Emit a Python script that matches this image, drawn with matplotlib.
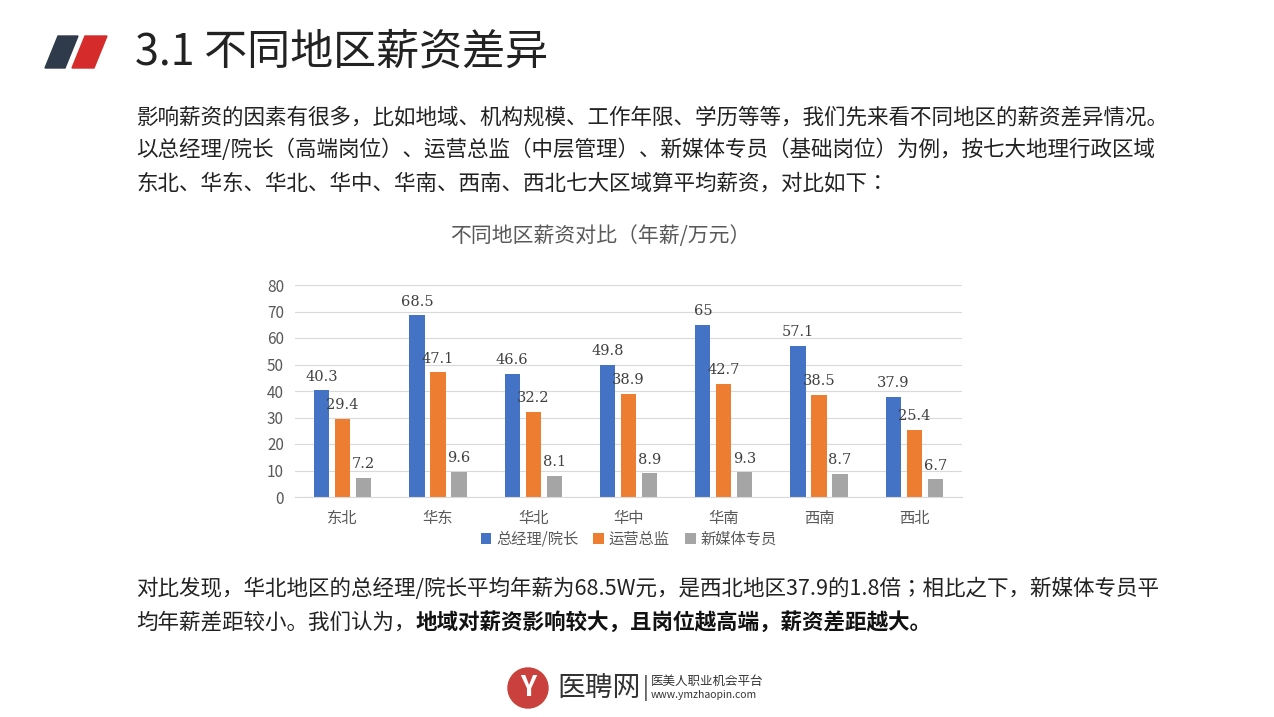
import matplotlib
matplotlib.use('Agg')
import matplotlib.pyplot as plt
from matplotlib.patches import Polygon, Ellipse
import numpy as np

plt.rcParams['font.family'] = ['Noto Sans CJK SC', 'Noto Sans CJK JP', 'DejaVu Sans']

regions = ['东北', '华东', '华北', '华中', '华南', '西南', '西北']
series_names = ['总经理/院长', '运营总监', '新媒体专员']
gm = [40.3, 68.5, 46.6, 49.8, 65, 57.1, 37.9]
ops = [29.4, 47.1, 32.2, 38.9, 42.7, 38.5, 25.4]
media = [7.2, 9.6, 8.1, 8.9, 9.3, 8.7, 6.7]
colors = ['#4472C4', '#ED7D31', '#A5A5A5']
yticks = [0, 10, 20, 30, 40, 50, 60, 70, 80]

W, H = 1274, 717
fig = plt.figure(figsize=(W / 100, H / 100), dpi=100)
fig.patch.set_facecolor('white')

def fx(x): return x / W
def fy(y): return 1 - y / H

# header mark
fig.patches.append(Polygon([(fx(58), fy(36)), (fx(78), fy(36)), (fx(65), fy(68)), (fx(45), fy(68))],
                           closed=True, color='#2F3A4A', transform=fig.transFigure))
fig.patches.append(Polygon([(fx(85), fy(36)), (fx(107), fy(36)), (fx(94), fy(68)), (fx(72), fy(68))],
                           closed=True, color='#D52B2B', transform=fig.transFigure))
fig.text(fx(135), fy(52), '3.1 不同地区薪资差异', fontsize=31, color='#222222', va='center')

para = ['影响薪资的因素有很多，比如地域、机构规模、工作年限、学历等等，我们先来看不同地区的薪资差异情况。',
        '以总经理/院长（高端岗位）、运营总监（中层管理）、新媒体专员（基础岗位）为例，按七大地理行政区域',
        '东北、华东、华北、华中、华南、西南、西北七大区域算平均薪资，对比如下：']
for i, line in enumerate(para):
    fig.text(fx(136), fy(117 + i * 33), line, fontsize=15.5, color='#222222', va='center')

fig.text(fx(600), fy(236), '不同地区薪资对比（年薪/万元）', fontsize=15, color='#595959', ha='center', va='center')

ax = fig.add_axes([fx(295), fy(497), fx(962) - fx(295), (497 - 285) / H])
x = np.arange(len(regions))
bw, off = 0.16, 0.22
for k, vals in enumerate([gm, ops, media]):
    bars = ax.bar(x + (k - 1) * off, vals, bw, color=colors[k], label=series_names[k])
    for b, v in zip(bars, vals):
        ax.text(b.get_x() + b.get_width() / 2, v + 2.5, f'{v:g}', ha='center', va='bottom',
                fontsize=10.5, color='#404040', family='DejaVu Serif')
ax.set_xlim(-0.5, len(regions) - 0.5)
ax.set_ylim(0, 80)
ax.set_yticks(yticks)
ax.set_xticks(x)
ax.set_xticklabels(regions)
ax.tick_params(length=0, labelsize=11, colors='#595959')
ax.tick_params(axis='x', pad=9)
ax.tick_params(axis='y', pad=8)
ax.grid(axis='y', color='#D9D9D9', linewidth=0.8)
ax.set_axisbelow(True)
for s in ['top', 'right', 'left']:
    ax.spines[s].set_visible(False)
ax.spines['bottom'].set_color('#D9D9D9')
ax.legend(loc='upper center', bbox_to_anchor=(0.5, -0.16), ncol=3, frameon=False,
          fontsize=11, handlelength=0.7, handleheight=0.7, columnspacing=1.0, handletextpad=0.3,
          labelcolor='#595959', borderaxespad=0, borderpad=0)

fig.text(fx(136), fy(589), '对比发现，华北地区的总经理/院长平均年薪为68.5W元，是西北地区37.9的1.8倍；相比之下，新媒体专员平',
         fontsize=15.5, color='#222222', va='center')
t1 = fig.text(fx(136), fy(622), '均年薪差距较小。我们认为，', fontsize=15.5, color='#222222', va='center')
fig.canvas.draw()
bb = t1.get_window_extent()
fig.text(bb.x1 / W, fy(622), '地域对薪资影响较大，且岗位越高端，薪资差距越大。', fontsize=15.5,
         color='#111111', va='center', fontweight='bold')

# footer logo
fig.patches.append(Ellipse((fx(528), fy(688)), 40 / W, 40 / H, color='#C9403C', transform=fig.transFigure))
fig.text(fx(528), fy(688), 'Y', fontsize=20, color='white', ha='center', va='center', fontweight='bold')
fig.text(fx(557), fy(688), '医聘网', fontsize=20, color='#333333', va='center')
fig.text(fx(643), fy(688), '|', fontsize=16, color='#333333', va='center')
fig.text(fx(651), fy(681), '医美人职业机会平台', fontsize=9, color='#333333', va='center')
fig.text(fx(651), fy(695), 'www.ymzhaopin.com', fontsize=7.5, color='#333333', va='center')

fig.savefig('out.png', dpi=100)
